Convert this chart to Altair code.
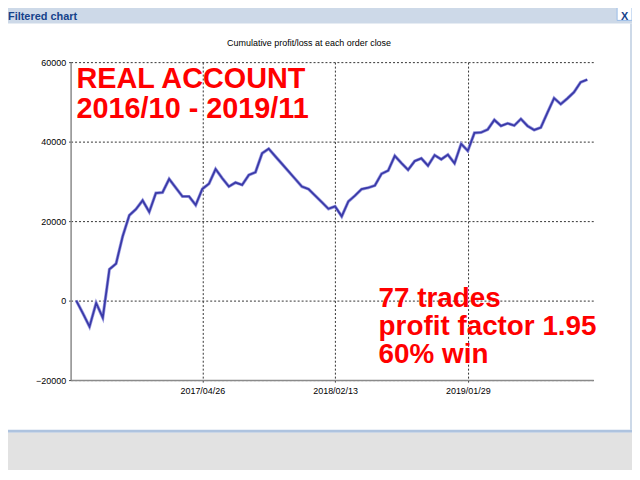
import altair as alt
import pandas as pd

# ---- data ----
trade_index = list(range(78))
cum_profit = [0, -3200, -6550, -600, -4300, 7900, 9300, 16200, 21450, 23000,
              25200, 22300, 27050, 27200, 30600, 28400, 26200, 26200, 24050, 28100,
              29400, 33100, 30800, 28700, 29700, 29100, 31600, 32300, 37050, 38200,
              36300, 34400, 32500, 30600, 28700, 28050, 26400, 24750, 23100, 23700,
              21200, 24950, 26400, 28050, 28400, 28950, 31900, 32700, 36400, 34600,
              32900, 35100, 35800, 33950, 36600, 35550, 36700, 34550, 39450, 37700,
              42200, 42300, 43050, 45450, 43950, 44600, 44050, 45700, 43950, 42950,
              43550, 47300, 50950, 49450, 50850, 52450, 54950, 55600]
x_tick_values = [19, 39, 59]
x_tick_labels = ["2017/04/26", "2018/02/13", "2019/01/29"]
y_tick_values = [-20000, 0, 20000, 40000, 60000]

window_title = "Filtered chart"
chart_title = "Cumulative profit/loss at each order close"
note_left = ["REAL ACCOUNT", "2016/10 - 2019/11"]
note_right = ["77 trades", "profit factor 1.95", "60% win"]

df = pd.DataFrame({"i": trade_index, "p": cum_profit})
one = pd.DataFrame({"k": [0]})

label_expr = " : ".join(
    f"datum.value == {v} ? '{l}'" for v, l in zip(x_tick_values, x_tick_labels)
) + " : ''"

W, H = 526, 320
PL, PT = 63, 53
TOTW, TOTH = 628, 462

xs = alt.Scale(domain=[-0.85, 77.9], nice=False, zero=False)
ys = alt.Scale(domain=[-20000, 60000], nice=False, zero=False)

def deco_rect(x, x2, y, y2, fill, stroke=None):
    kw = dict(fill=fill)
    if stroke:
        kw.update(stroke=stroke, strokeWidth=1)
    return alt.Chart(one).mark_rect(**kw).encode(
        x=alt.value(x), x2=alt.value(x2), y=alt.value(y), y2=alt.value(y2))

def deco_text(txt, x, y, **kw):
    return alt.Chart(one).mark_text(text=txt, **kw).encode(
        x=alt.value(x), y=alt.value(y))

ox, oy = 71, 61  # absolute position of plot origin
def ax(v): return v - ox
def ay(v): return v - oy

frame = [
    deco_rect(ax(0), ax(640), ay(0), ay(22), "#cdd9e8"),
    deco_rect(ax(634), ax(640), ay(22), ay(431), "#cdd9e8"),
    deco_rect(ax(0), ax(640), ay(431), ay(434), "#aec3df"),
    deco_rect(ax(0), ax(640), ay(434), ay(480), "#e2e2e2"),
    deco_rect(ax(621), ax(636), ay(5), ay(19), "#ffffff", stroke="#99bbe8"),
    deco_text("X", ax(628.5), ay(16), font="Liberation Sans", fontSize=11,
              fontWeight="bold", color="#15428b", align="center"),
    deco_text(window_title, ax(8), ay(16), font="Liberation Sans", fontSize=11,
              fontWeight="bold", color="#15428b", align="left"),
    deco_text(chart_title, ax(311), ay(42), font="Liberation Sans", fontSize=9,
              color="#000000", align="center"),
]

base = alt.Chart(df).encode(
    x=alt.X("i:Q", scale=xs, axis=alt.Axis(
        values=x_tick_values, labelExpr=label_expr, title=None,
        grid=True, gridDash=[2, 2], gridColor="#333333", gridWidth=1,
        ticks=True, tickDash=[2, 2], tickColor="#333333", tickSize=4,
        domainColor="#8a8a8a", domainWidth=1.5,
        labelFont="Liberation Sans", labelFontSize=9, labelColor="#000000",
        labelPadding=2)),
    y=alt.Y("p:Q", scale=ys, axis=alt.Axis(
        values=y_tick_values, title=None,
        grid=True, gridDash=[2, 2], gridColor="#333333", gridWidth=1,
        ticks=True, tickDash=[2, 2], tickColor="#333333", tickSize=4,
        domainColor="#8a8a8a", domainWidth=1.5,
        labelFont="Liberation Sans", labelFontSize=9, labelColor="#000000",
        labelPadding=1, format="d")),
)

halo = base.mark_line(color="#9b9be0", strokeWidth=3.2)
line = base.mark_line(color="#3a3aa8", strokeWidth=1.8)

notes = [
    alt.Chart(one).mark_text(text=note_left, font="Liberation Sans", fontSize=29,
                             fontWeight="bold", color="#ff0000", align="left",
                             baseline="alphabetic", lineHeight=30).encode(
        x=alt.value(ax(77)), y=alt.value(ay(87))),
    alt.Chart(one).mark_text(text=note_right, font="Liberation Sans", fontSize=28,
                             fontWeight="bold", color="#ff0000", align="left",
                             baseline="alphabetic", lineHeight=28.5).encode(
        x=alt.value(ax(381)), y=alt.value(ay(307))),
]

chart = alt.layer(*frame, halo, line, *notes).properties(
    width=W, height=H,
    autosize=alt.AutoSizeParams(type="none"),
    padding={"left": PL, "top": PT, "right": TOTW - PL - W, "bottom": TOTH - PT - H},
    background="#ffffff",
).configure_view(strokeWidth=0)

chart.save("out.html", embed_options={"renderer": "svg", "actions": False})
